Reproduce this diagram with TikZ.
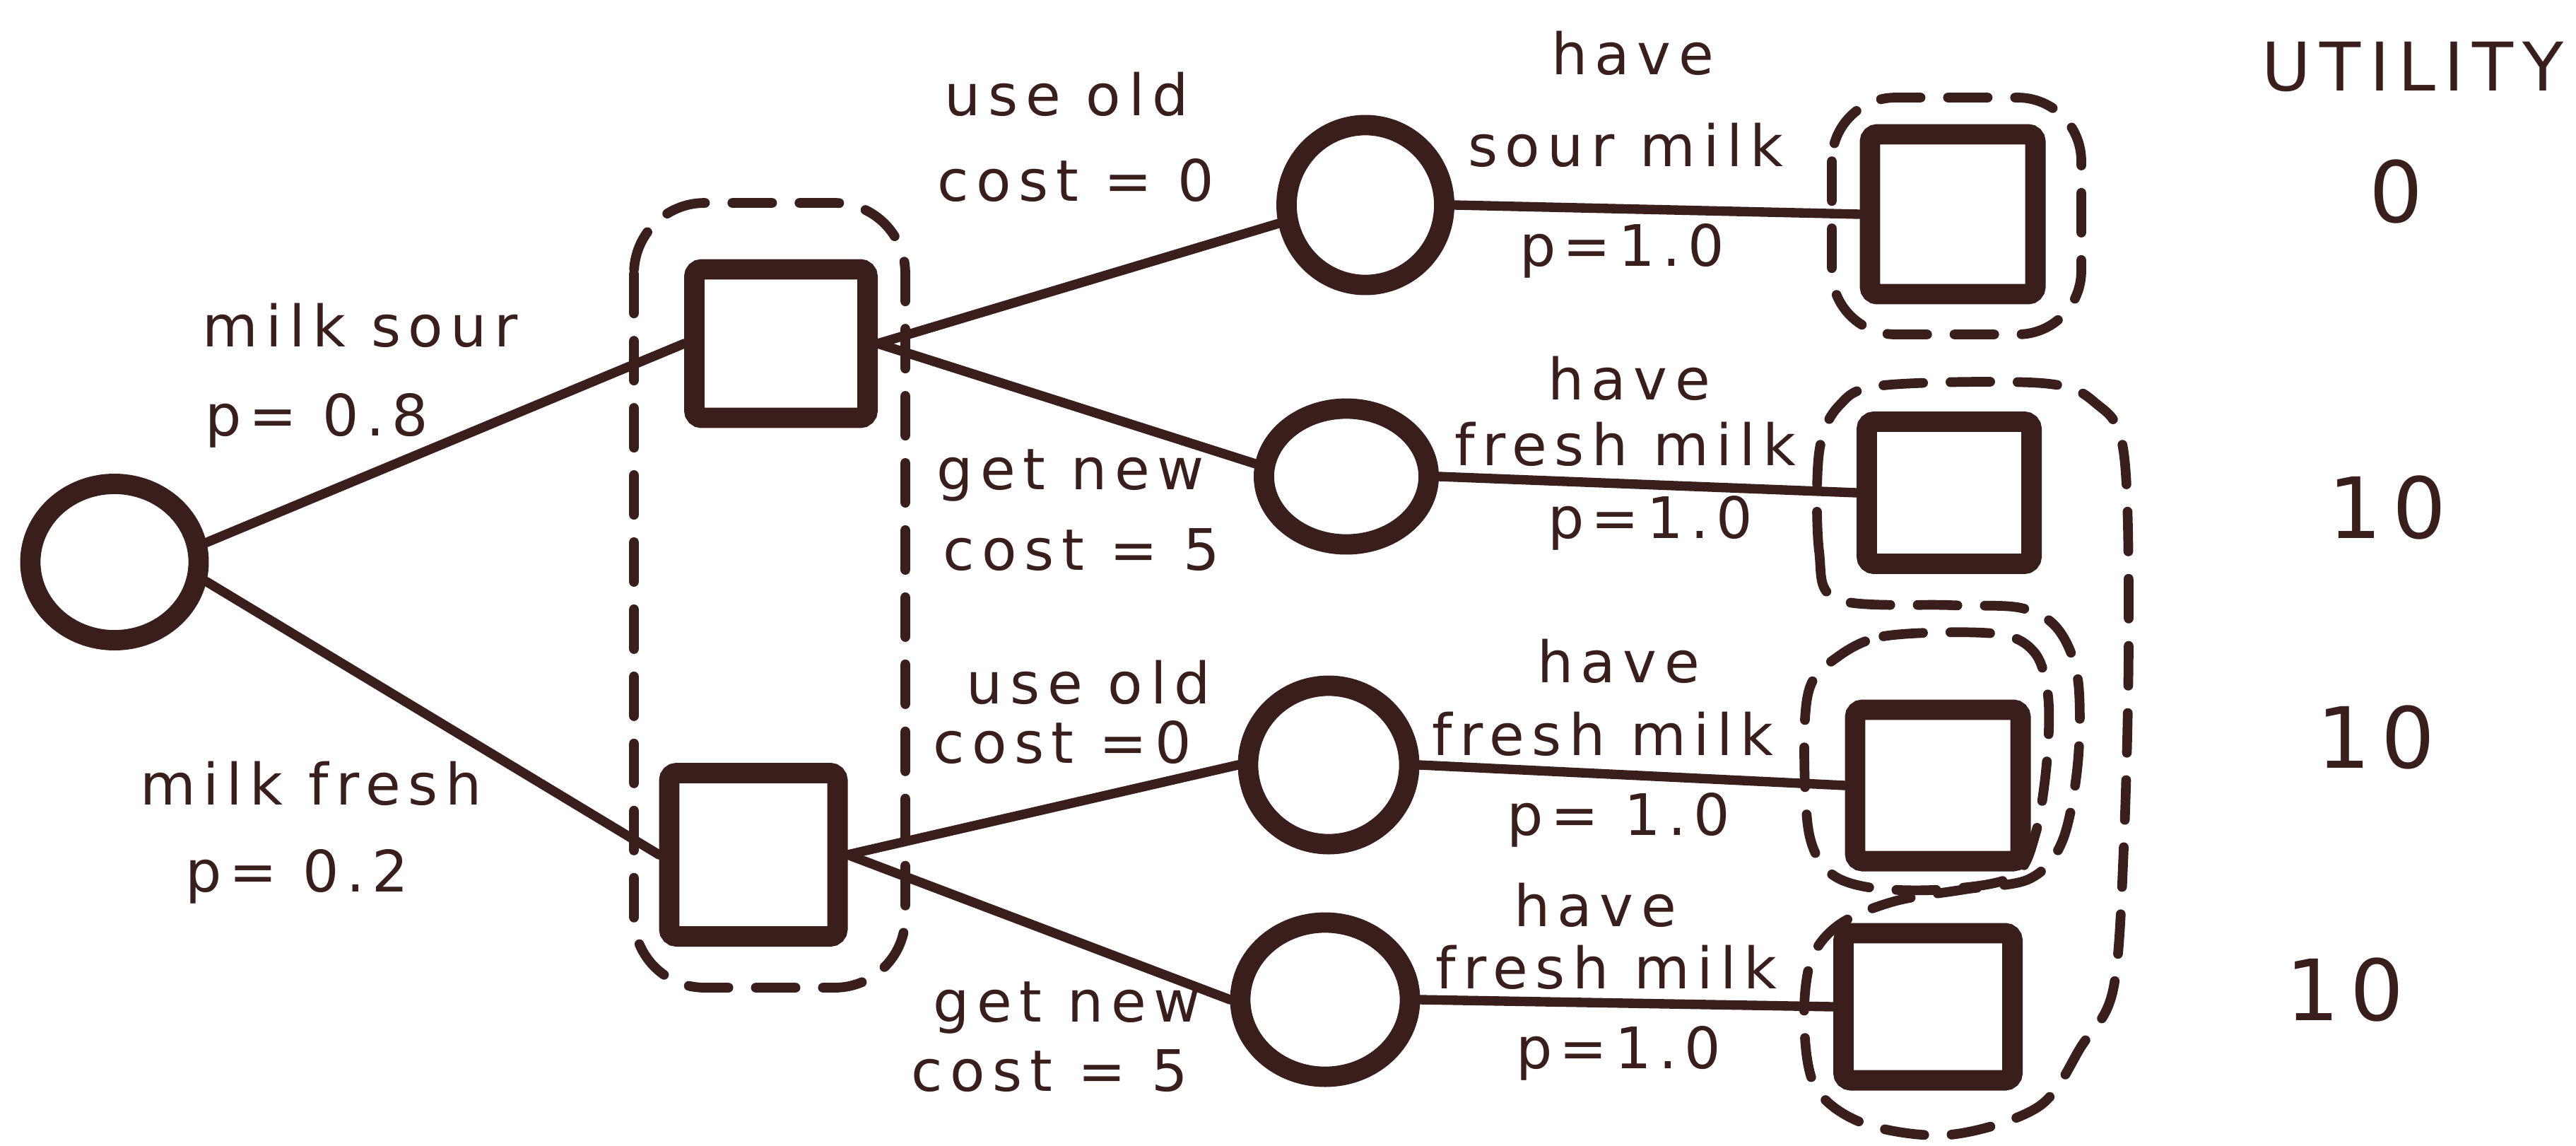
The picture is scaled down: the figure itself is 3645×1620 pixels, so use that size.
\documentclass[tikz,border=0pt]{standalone}
\usepackage{fontspec}
\setmainfont{DejaVu Sans}[LetterSpace=13]
\usetikzlibrary{shapes.geometric}
\definecolor{ink}{RGB}{58,30,28}

\begin{document}
\begin{tikzpicture}[x=0.01cm, y=-0.01cm,
  chance/.style={ellipse, draw=ink, line width=8.2pt, inner sep=0pt, fill=white},
  choice/.style={rectangle, draw=ink, line width=8.2pt, inner sep=0pt, rounded corners=3pt, fill=white},
  branch/.style={draw=ink, line width=3.8pt, line cap=round},
  infoset/.style={draw=ink, line width=3.9pt, dash pattern=on 16pt off 11pt, line cap=round},
  lbl/.style={text=ink, font=\fontsize{23}{26}\selectfont, inner sep=0pt},
  util/.style={text=ink, font=\fontsize{34}{38}\selectfont, inner sep=0pt}]

% page
\fill[white] (0,0) rectangle (3645,1620);
\useasboundingbox (0,0) rectangle (3645,1620);

% information sets
\draw[infoset, rounded corners=1cm] (897,287) rectangle (1281,1397);
\draw[infoset, rounded corners=0.9cm] (2592,138) rectangle (2945,473);
\draw[infoset] plot[smooth cycle, tension=0.55] coordinates {
  (2600,848) (2574,780) (2574,640) (2602,574) (2665,545) (2890,542)
  (2965,570) (3005,640) (3012,900) (3005,1200) (2990,1400) (2945,1480)
  (2885,1565) (2760,1605) (2640,1590) (2570,1540) (2553,1450) (2562,1360)
  (2602,1308) (2680,1275) (2780,1258) (2872,1243) (2918,1190) (2940,1080)
  (2940,960) (2912,890) (2860,860) (2760,856)};
\draw[infoset] plot[smooth cycle, tension=0.55] coordinates {
  (2592,935) (2665,900) (2820,896) (2878,922) (2898,985) (2896,1080)
  (2880,1180) (2848,1240) (2750,1258) (2650,1256) (2590,1235) (2560,1180)
  (2553,1060) (2560,975)};

% tree nodes
\node[chance, minimum width=2.38cm, minimum height=2.21cm] (root) at (162,795) {};
\node[choice, minimum width=2.45cm, minimum height=2.10cm] (d1) at (1105,486) {};
\node[choice, minimum width=2.38cm, minimum height=2.31cm] (d2) at (1066,1209) {};
\node[chance, minimum width=2.23cm, minimum height=2.26cm] (c1) at (1932,290) {};
\node[chance, minimum width=2.33cm, minimum height=1.92cm] (c2) at (1905,674) {};
\node[chance, minimum width=2.28cm, minimum height=2.24cm] (c3) at (1880,1082) {};
\node[chance, minimum width=2.40cm, minimum height=2.18cm] (c4) at (1875,1414) {};
\node[choice, minimum width=2.34cm, minimum height=2.26cm] (t1) at (2763,303) {};
\node[choice, minimum width=2.33cm, minimum height=2.01cm] (t2) at (2758,697) {};
\node[choice, minimum width=2.34cm, minimum height=2.14cm] (t3) at (2742,1111) {};
\node[choice, minimum width=2.39cm, minimum height=2.08cm] (t4) at (2728,1424) {};

% branches
\draw[branch] (root.12) -- (d1.west);
\draw[branch] (root.-12) -- (d2.west);
\draw[branch] (d1.east) -- (c1.192);
\draw[branch] (d1.east) -- (c2.172);
\draw[branch] (d2.east) -- (c3.west);
\draw[branch] (d2.east) -- (c4.west);
\draw[branch] (c1.east) -- (t1.west);
\draw[branch] (c2.east) -- (t2.west);
\draw[branch] (c3.east) -- (t3.west);
\draw[branch] (c4.east) -- (t4.west);

% branch labels
\node[lbl] (l1a) at (510,460) {milk sour};
\node[lbl] (l1b) at (448,595) {p= 0.8};
\node[lbl] (l2a) at (440,1108) {milk fresh};
\node[lbl] (l2b) at (420,1240) {p= 0.2};

\node[lbl] (l3a) at (1509,133) {use old};
\node[lbl] (l3b) at (1522,255) {cost = 0};
\node[lbl] (l4a) at (1515,672) {get new};
\node[lbl] (l4b) at (1530,778) {cost = 5};
\node[lbl] (l5a) at (1540,965) {use old};
\node[lbl] (l5b) at (1503,1050) {cost =0};
\node[lbl] (l6a) at (1510,1425) {get new};
\node[lbl] (l6b) at (1485,1515) {cost = 5};

\node[lbl] (o1a) at (2310,75) {have};
\node[lbl] (o1b) at (2300,205) {sour milk};
\node[lbl] (o1c) at (2295,355) {p=1.0};
\node[lbl] (o2a) at (2305,535) {have};
\node[lbl] (o2b) at (2300,628) {fresh milk};
\node[lbl] (o2c) at (2335,740) {p=1.0};
\node[lbl] (o3a) at (2290,935) {have};
\node[lbl] (o3b) at (2268,1038) {fresh milk};
\node[lbl] (o3c) at (2290,1160) {p= 1.0};
\node[lbl] (o4a) at (2257,1280) {have};
\node[lbl] (o4b) at (2273,1368) {fresh milk};
\node[lbl] (o4c) at (2290,1490) {p=1.0};

% utilities
\node[text=ink, font=\fontsize{27}{30}\selectfont, inner sep=0pt] (uh) at (3414,95) {UTILITY};
\node[util] (u1) at (3390,271) {0};
\node[util] (u2) at (3378,718) {10};
\node[util] (u3) at (3362,1043) {10};
\node[util] (u4) at (3318,1400) {10};
\end{tikzpicture}
\end{document}
